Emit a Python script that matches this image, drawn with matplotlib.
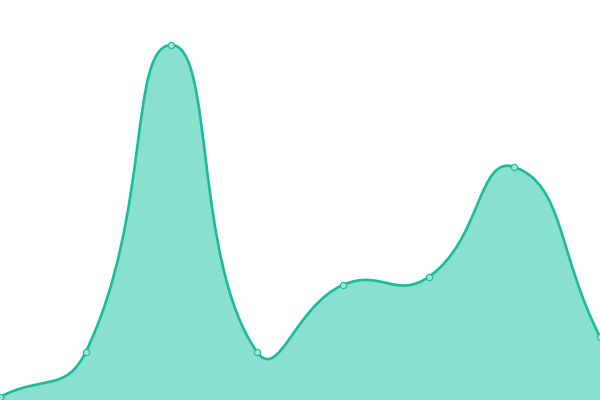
"""
Smoothed area chart, eight points, no axes.
"""

import numpy as np
from matplotlib import pyplot
from matplotlib.path import Path
from matplotlib.patches import PathPatch

# Data
x_vals = [0, 1, 2, 3, 4, 5, 6, 7]
y_vals = [3, 48, 355, 48, 115, 123, 233, 63]

line_color = '#1abc9c'
fill_color = '#8ae0cf'
smooth = 0.5

fig = pyplot.figure(figsize=(6.0, 4.0), dpi=100)
ax = fig.add_axes([0, 0, 1, 1])
ax.set_xlim(0, 7)
ax.set_ylim(0, 400)
ax.axis('off')

# Smooth the line the way echarts does it, in pixel space.
pts = ax.transData.transform(np.column_stack([x_vals, y_vals]))
n = len(pts)
cp_in, cp_out = [], []
for i in range(n):
    p = pts[i]
    prev = pts[i - 1] if i > 0 else p
    nxt = pts[i + 1] if i < n - 1 else p
    v = nxt - prev
    d0 = np.hypot(*(p - prev))
    d1 = np.hypot(*(nxt - p))
    tot = d0 + d1 if d0 + d1 > 0 else 1.0
    cp_in.append(p - v * smooth * d0 / tot)
    cp_out.append(p + v * smooth * d1 / tot)

verts = [pts[0]]
codes = [Path.MOVETO]
for i in range(n - 1):
    verts += [cp_out[i], cp_in[i + 1], pts[i + 1]]
    codes += [Path.CURVE4] * 3
inv = ax.transData.inverted()
verts = inv.transform(np.array(verts))

# Area under the curve
area_verts = np.vstack([verts, [[x_vals[-1], 0], [x_vals[0], 0], verts[0]]])
area_codes = codes + [Path.LINETO, Path.LINETO, Path.CLOSEPOLY]
ax.add_patch(PathPatch(Path(area_verts, area_codes), facecolor=fill_color,
                       edgecolor='none', zorder=1))

# Line
ax.add_patch(PathPatch(Path(verts, codes), facecolor='none',
                       edgecolor=line_color, linewidth=1.9, zorder=2,
                       capstyle='round', joinstyle='round'))

# Markers
ax.plot(x_vals, y_vals, linestyle='none', marker='o', markersize=4.5,
        markerfacecolor='#9fe5d7', markeredgecolor=line_color,
        markeredgewidth=0.8, zorder=3)

fig.savefig('out.png', dpi=100)
